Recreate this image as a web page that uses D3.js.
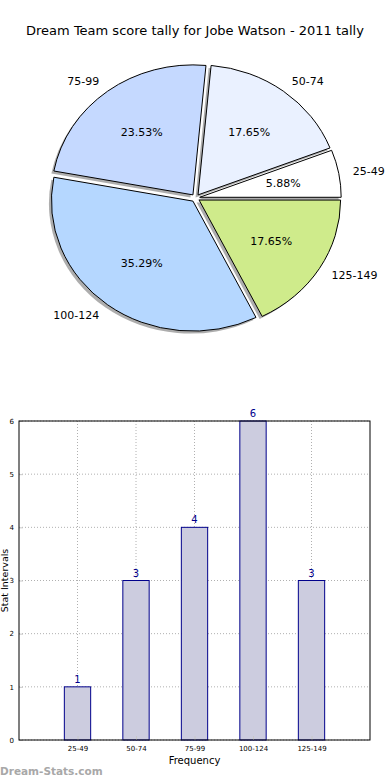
<!DOCTYPE html>
<html>
<head>
<meta charset="utf-8">
<script src="https://cdn.jsdelivr.net/npm/d3@7"></script>
<style>
  body { margin: 0; background: #fff; }
  svg { display: block; font-family: "DejaVu Sans", sans-serif; }
</style>
</head>
<body>
<div id="chart"></div>
<script>
// data
var categories = ["25-49", "50-74", "75-99", "100-124", "125-149"];
var counts = [1, 3, 4, 6, 3];
var pieColors = ["#ffffff", "#eaf1ff", "#c5d9ff", "#b5d7ff", "#cfeb8b"];
var yTicks = [0, 1, 2, 3, 4, 5, 6];

var W = 390, H = 780;

var svg = d3.select("#chart").append("svg")
    .attr("width", W)
    .attr("height", H);

// title
svg.append("text")
    .attr("x", 195).attr("y", 35)
    .attr("text-anchor", "middle")
    .attr("font-size", 13)
    .text("Dream Team score tally for Jobe Watson - 2011 tally");

// ---- pie (elliptical, like a non-equal matplotlib axis)
var cx = 195.5, cy = 198, rx = 141.5, ry = 130,
    explode = 0.03, R = 100;

var pie = d3.pie().sort(null)
    .startAngle(Math.PI / 2)
    .endAngle(Math.PI / 2 - 2 * Math.PI);
var arcs = pie(counts);
var total = d3.sum(counts);

var arc = d3.arc().innerRadius(0).outerRadius(R);

function mid(d) { return (d.startAngle + d.endAngle) / 2; }
function offs(d, k) {
  var m = mid(d);
  return [Math.sin(m) * k * rx, -Math.cos(m) * k * ry];
}

var pieG = svg.append("g");

// shadows first
pieG.selectAll(".shadow")
  .data(arcs)
  .enter().append("path")
    .attr("class", "shadow")
    .attr("d", arc)
    .attr("transform", function(d) {
      var o = offs(d, explode);
      return "translate(" + (cx + o[0] - 2.5) + "," + (cy + o[1] + 2.5) + ") scale(" + rx / R + "," + ry / R + ")";
    })
    .attr("fill", "#777")
    .attr("opacity", 0.6);

pieG.selectAll(".wedge")
  .data(arcs)
  .enter().append("path")
    .attr("class", "wedge")
    .attr("d", arc)
    .attr("transform", function(d) {
      var o = offs(d, explode);
      return "translate(" + (cx + o[0]) + "," + (cy + o[1]) + ") scale(" + rx / R + "," + ry / R + ")";
    })
    .attr("fill", function(d, i) { return pieColors[i]; })
    .attr("stroke", "#000")
    .attr("stroke-width", 1)
    .attr("vector-effect", "non-scaling-stroke");

// category labels at 1.1 radius
pieG.selectAll(".lab")
  .data(arcs)
  .enter().append("text")
    .attr("class", "lab")
    .attr("x", function(d) { return cx + offs(d, explode)[0] + offs(d, 1.1)[0]; })
    .attr("y", function(d) { return cy + offs(d, explode)[1] + offs(d, 1.1)[1]; })
    .attr("dy", "0.35em")
    .attr("text-anchor", function(d) { return Math.sin(mid(d)) > 0 ? "start" : "end"; })
    .attr("font-size", 11)
    .text(function(d, i) { return categories[i]; });

// percentages at 0.6 radius
pieG.selectAll(".pct")
  .data(arcs)
  .enter().append("text")
    .attr("class", "pct")
    .attr("x", function(d) { return cx + offs(d, explode)[0] + offs(d, 0.6)[0]; })
    .attr("y", function(d) { return cy + offs(d, explode)[1] + offs(d, 0.6)[1]; })
    .attr("dy", "0.35em")
    .attr("text-anchor", "middle")
    .attr("font-size", 11)
    .text(function(d) { return (d.value / total * 100).toFixed(2) + "%"; });

// ---- bar chart
var bLeft = 19, bRight = 370, bTop = 421, bBottom = 740;

var xScale = d3.scaleLinear().domain([-1, 5]).range([bLeft, bRight]);
var yScale = d3.scaleLinear().domain([0, 6]).range([bBottom, bTop]);
var barW = 0.45;

var barG = svg.append("g");

// grid
barG.selectAll(".gy")
  .data(yTicks)
  .enter().append("line")
    .attr("x1", bLeft).attr("x2", bRight)
    .attr("y1", function(d) { return yScale(d); })
    .attr("y2", function(d) { return yScale(d); })
    .attr("stroke", "#b0b0b0")
    .attr("stroke-dasharray", "1,2");

barG.selectAll(".gx")
  .data(categories)
  .enter().append("line")
    .attr("x1", function(d, i) { return xScale(i); })
    .attr("x2", function(d, i) { return xScale(i); })
    .attr("y1", bTop).attr("y2", bBottom)
    .attr("stroke", "#b0b0b0")
    .attr("stroke-dasharray", "1,2");

// bars
barG.selectAll(".bar")
  .data(counts)
  .enter().append("rect")
    .attr("x", function(d, i) { return xScale(i - barW / 2); })
    .attr("width", xScale(barW) - xScale(0))
    .attr("y", function(d) { return yScale(d); })
    .attr("height", function(d) { return yScale(0) - yScale(d); })
    .attr("fill", "#ccccdf")
    .attr("stroke", "#00008b")
    .attr("stroke-width", 1);

// value labels
barG.selectAll(".val")
  .data(counts)
  .enter().append("text")
    .attr("x", function(d, i) { return xScale(i); })
    .attr("y", function(d) { return yScale(d) - 4; })
    .attr("text-anchor", "middle")
    .attr("font-size", 10)
    .attr("fill", "#00008b")
    .text(function(d) { return d; });

// axes
var xAxis = d3.axisBottom(xScale)
    .tickValues(d3.range(categories.length))
    .tickFormat(function(d) { return categories[d]; })
    .tickSizeInner(-4).tickSizeOuter(0).tickPadding(6);
var yAxis = d3.axisLeft(yScale)
    .tickValues(yTicks)
    .tickFormat(d3.format("d"))
    .tickSizeInner(-4).tickSizeOuter(0).tickPadding(5);

var gx = barG.append("g")
    .attr("transform", "translate(0," + bBottom + ")")
    .call(xAxis);
var gy = barG.append("g")
    .attr("transform", "translate(" + bLeft + ",0)")
    .call(yAxis);

[gx, gy].forEach(function(g) {
  g.select(".domain").remove();
  g.selectAll(".tick line").attr("stroke", "#c8c8c8");
  g.selectAll(".tick text").attr("font-size", 7).attr("fill", "#000")
    .attr("font-family", "DejaVu Sans, sans-serif");
});

// frame
barG.append("rect")
    .attr("x", bLeft).attr("y", bTop)
    .attr("width", bRight - bLeft).attr("height", bBottom - bTop)
    .attr("fill", "none")
    .attr("stroke", "#000")
    .attr("stroke-width", 1);

// axis titles
svg.append("text")
    .attr("x", (bLeft + bRight) / 2).attr("y", 764)
    .attr("text-anchor", "middle")
    .attr("font-size", 10)
    .text("Frequency");

svg.append("text")
    .attr("transform", "translate(8," + (bTop + bBottom) / 2 + ") rotate(-90)")
    .attr("text-anchor", "middle")
    .attr("font-size", 9.5)
    .text("Stat Intervals");

// watermark
svg.append("text")
    .attr("x", 0).attr("y", 775)
    .attr("font-size", 10.5)
    .attr("font-weight", "bold")
    .attr("fill", "#a8a8a8")
    .text("Dream-Stats.com");
</script>
</body>
</html>
